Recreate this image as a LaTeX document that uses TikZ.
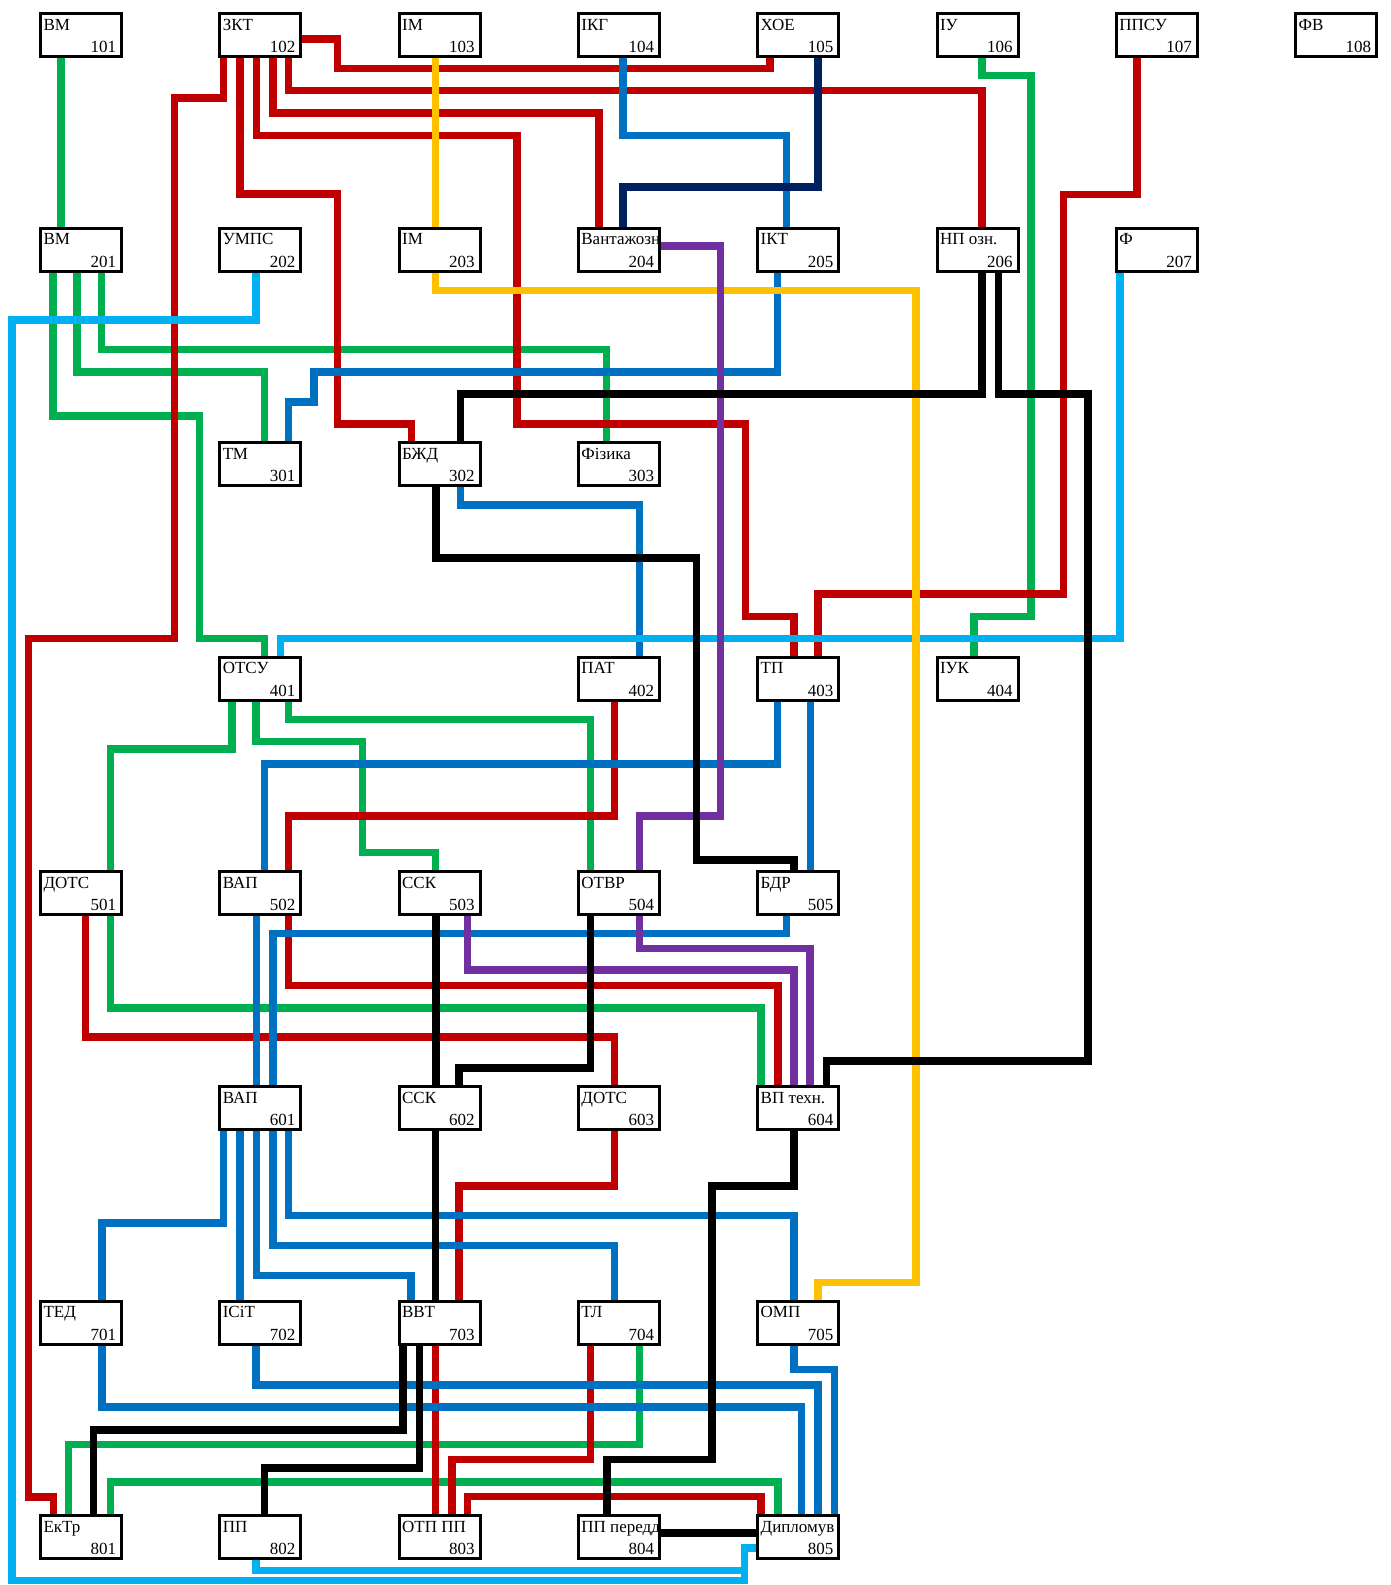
\documentclass[tikz,border=0pt]{standalone}
\usepackage{fontspec}
\setmainfont{Liberation Serif}
\usetikzlibrary{calc}
\pgfdeclarelayer{bg}
\pgfsetlayers{bg,main}
\definecolor{cR}{HTML}{C00000}
\definecolor{cG}{HTML}{00B050}
\definecolor{cB}{HTML}{0070C0}
\definecolor{cC}{HTML}{00B0F0}
\definecolor{cY}{HTML}{FFC000}
\definecolor{cN}{HTML}{002060}
\definecolor{cP}{HTML}{7030A0}
\tikzset{
  box/.style={fill=white, minimum width=81pt, minimum height=43pt, inner sep=0pt, outer sep=0pt},
  brd/.style={draw=black, line width=3pt},
  ln/.style={line width=7.5pt, line join=miter, line cap=butt},
  lbl/.style={inner sep=0pt, font=\fontsize{17}{20}\selectfont},
}
\newcommand\mkbox[5]{%
  \node[box] (#1) at (#2,#3) {};
  \begin{scope}
    \clip (#1.south west) rectangle (#1.north east);
    \node[lbl, anchor=base west] (#1t) at ($(#1.north west)+(2.8,16.5)$) {#4};
    \node[lbl, anchor=base east] (#1n) at ($(#1.south east)+(-5.2,-4)$) {#5};
  \end{scope}
  \draw[brd] (#1.south west) rectangle (#1.north east);
}
\begin{document}
\begin{tikzpicture}[x=1pt,y=-1pt]
\useasboundingbox (0,0) rectangle (1390,1585);
% row 1
\mkbox{b101}{81}{35}{ВМ}{101}
\mkbox{b102}{260.3}{35}{ЗКТ}{102}
\mkbox{b103}{439.6}{35}{ІМ}{103}
\mkbox{b104}{618.9}{35}{ІКГ}{104}
\mkbox{b105}{798.2}{35}{ХОЕ}{105}
\mkbox{b106}{977.5}{35}{ІУ}{106}
\mkbox{b107}{1156.8}{35}{ППСУ}{107}
\mkbox{b108}{1336.1}{35}{ФВ}{108}
% row 2
\mkbox{b201}{81}{249.6}{ВМ}{201}
\mkbox{b202}{260.3}{249.6}{УМПС}{202}
\mkbox{b203}{439.6}{249.6}{ІМ}{203}
\mkbox{b204}{618.9}{249.6}{Вантажозн}{204}
\mkbox{b205}{798.2}{249.6}{ІКТ}{205}
\mkbox{b206}{977.5}{249.6}{НП озн.}{206}
\mkbox{b207}{1156.8}{249.6}{Ф}{207}
% row 3
\mkbox{b301}{260.3}{464.2}{ТМ}{301}
\mkbox{b302}{439.6}{464.2}{БЖД}{302}
\mkbox{b303}{618.9}{464.2}{Фізика}{303}
% row 4
\mkbox{b401}{260.3}{678.8}{ОТСУ}{401}
\mkbox{b402}{618.9}{678.8}{ПАТ}{402}
\mkbox{b403}{798.2}{678.8}{ТП}{403}
\mkbox{b404}{977.5}{678.8}{ІУК}{404}
% row 5
\mkbox{b501}{81}{893.4}{ДОТС}{501}
\mkbox{b502}{260.3}{893.4}{ВАП}{502}
\mkbox{b503}{439.6}{893.4}{ССК}{503}
\mkbox{b504}{618.9}{893.4}{ОТВР}{504}
\mkbox{b505}{798.2}{893.4}{БДР}{505}
% row 6
\mkbox{b601}{260.3}{1108}{ВАП}{601}
\mkbox{b602}{439.6}{1108}{ССК}{602}
\mkbox{b603}{618.9}{1108}{ДОТС}{603}
\mkbox{b604}{798.2}{1108}{ВП техн.}{604}
% row 7
\mkbox{b701}{81}{1322.6}{ТЕД}{701}
\mkbox{b702}{260.3}{1322.6}{ІСіТ}{702}
\mkbox{b703}{439.6}{1322.6}{ВВТ}{703}
\mkbox{b704}{618.9}{1322.6}{ТЛ}{704}
\mkbox{b705}{798.2}{1322.6}{ОМП}{705}
% row 8
\mkbox{b801}{81}{1537.2}{ЕкТр}{801}
\mkbox{b802}{260.3}{1537.2}{ПП}{802}
\mkbox{b803}{439.6}{1537.2}{ОТП ПП}{803}
\mkbox{b804}{618.9}{1537.2}{ПП передд}{804}
\mkbox{b805}{798.2}{1537.2}{Дипломув}{805}

\begin{pgfonlayer}{bg}
\fill[white] (0,0) rectangle (1390,1585);
% green
\draw[ln,cG] (61.2,0 |- b101.south) -- (61.2,0 |- b201.north);
\draw[ln,cG] (53.2,0 |- b201.south) -- (53.2,416.1) -- (199.3,416.1) -- (199.3,638.6) -- (264.5,638.6) -- (264.5,0 |- b401.north);
\draw[ln,cG] (77,0 |- b201.south) -- (77,371.8) -- (264.5,371.8) -- (264.5,0 |- b301.north);
\draw[ln,cG] (101.5,0 |- b201.south) -- (101.5,349.5) -- (606.6,349.5) -- (606.6,0 |- b303.north);
\draw[ln,cG] (981.8,0 |- b106.south) -- (981.8,75.5) -- (1031.2,75.5) -- (1031.2,616.3) -- (974,616.3) -- (974,0 |- b404.north);
\draw[ln,cG] (232,0 |- b401.south) -- (232,749.2) -- (110.3,749.2) -- (110.3,0 |- b501.north);
\draw[ln,cG] (256.2,0 |- b401.south) -- (256.2,741.6) -- (362.7,741.6) -- (362.7,852.6) -- (435.7,852.6) -- (435.7,0 |- b503.north);
\draw[ln,cG] (288.5,0 |- b401.south) -- (288.5,719.7) -- (590.6,719.7) -- (590.6,0 |- b504.north);
\draw[ln,cG] (110.3,0 |- b501.south) -- (110.3,1007.8) -- (761.2,1007.8) -- (761.2,0 |- b604.north);
\draw[ln,cG] (639.7,0 |- b704.south) -- (639.7,1444.3) -- (68.5,1444.3) -- (68.5,0 |- b801.north);
\draw[ln,cG] (110.3,0 |- b801.north) -- (110.3,1481.8) -- (777.9,1481.8) -- (777.9,0 |- b805.north);
% red
\draw[ln,cR] (b102.east |- 0,39) -- (337.5,39) -- (337.5,68.4) -- (770.2,68.4) -- (770.2,0 |- b105.south);
\draw[ln,cR] (223.5,0 |- b102.south) -- (223.5,98.1) -- (174.7,98.1) -- (174.7,638.6) -- (28.5,638.6) -- (28.5,1497.1) -- (53.3,1497.1) -- (53.3,0 |- b801.north);
\draw[ln,cR] (240.2,0 |- b102.south) -- (240.2,193.8) -- (337.7,193.8) -- (337.7,424) -- (411.3,424) -- (411.3,0 |- b302.north);
\draw[ln,cR] (256.5,0 |- b102.south) -- (256.5,135.3) -- (517.1,135.3) -- (517.1,424) -- (745.4,424) -- (745.4,616.3) -- (794.2,616.3) -- (794.2,0 |- b403.north);
\draw[ln,cR] (272.8,0 |- b102.south) -- (272.8,113) -- (598.9,113) -- (598.9,0 |- b204.north);
\draw[ln,cR] (288.5,0 |- b102.south) -- (288.5,90.7) -- (981.8,90.7) -- (981.8,0 |- b206.north);
\draw[ln,cR] (1137,0 |- b107.south) -- (1137,194.4) -- (1063.6,194.4) -- (1063.6,594) -- (817.9,594) -- (817.9,0 |- b403.north);
\draw[ln,cR] (614.6,0 |- b402.south) -- (614.6,816.2) -- (288.5,816.2) -- (288.5,0 |- b502.north);
\draw[ln,cR] (288.5,0 |- b502.south) -- (288.5,985.5) -- (777.9,985.5) -- (777.9,0 |- b604.north);
\draw[ln,cR] (85.3,0 |- b501.south) -- (85.3,1037) -- (614.6,1037) -- (614.6,0 |- b603.north);
\draw[ln,cR] (614.6,0 |- b603.south) -- (614.6,1186) -- (459,1186) -- (459,0 |- b703.north);
\draw[ln,cR] (435.7,0 |- b703.south) -- (435.7,0 |- b803.north);
\draw[ln,cR] (590.6,0 |- b704.south) -- (590.6,1459.7) -- (452,1459.7) -- (452,0 |- b803.north);
\draw[ln,cR] (467.3,0 |- b803.north) -- (467.3,1496.4) -- (761.2,1496.4) -- (761.2,0 |- b805.north);
% blue
\draw[ln,cB] (623.1,0 |- b104.south) -- (623.1,135.3) -- (786.4,135.3) -- (786.4,0 |- b205.north);
\draw[ln,cB] (777.6,0 |- b205.south) -- (777.6,371.8) -- (314,371.8) -- (314,402.2) -- (288.5,402.2) -- (288.5,0 |- b301.north);
\draw[ln,cB] (460.3,0 |- b302.south) -- (460.3,505.2) -- (639.3,505.2) -- (639.3,0 |- b402.north);
\draw[ln,cB] (777.6,0 |- b403.south) -- (777.6,764) -- (264.5,764) -- (264.5,0 |- b502.north);
\draw[ln,cB] (810.4,0 |- b403.south) -- (810.4,0 |- b505.north);
\draw[ln,cB] (256.5,0 |- b502.south) -- (256.5,0 |- b601.north);
\draw[ln,cB] (786.4,0 |- b505.south) -- (786.4,933.6) -- (272.8,933.6) -- (272.8,0 |- b601.north);
\draw[ln,cB] (223.5,0 |- b601.south) -- (223.5,1222.9) -- (101.8,1222.9) -- (101.8,0 |- b701.north);
\draw[ln,cB] (240.2,0 |- b601.south) -- (240.2,0 |- b702.north);
\draw[ln,cB] (256.5,0 |- b601.south) -- (256.5,1275.7) -- (411,1275.7) -- (411,0 |- b703.north);
\draw[ln,cB] (272.8,0 |- b601.south) -- (272.8,1245.4) -- (614.6,1245.4) -- (614.6,0 |- b704.north);
\draw[ln,cB] (288.5,0 |- b601.south) -- (288.5,1215.4) -- (793.9,1215.4) -- (793.9,0 |- b705.north);
\draw[ln,cB] (101.8,0 |- b701.south) -- (101.8,1407.2) -- (801.7,1407.2) -- (801.7,0 |- b805.north);
\draw[ln,cB] (256.2,0 |- b702.south) -- (256.2,1385.1) -- (818.1,1385.1) -- (818.1,0 |- b805.north);
\draw[ln,cB] (793.9,0 |- b705.south) -- (793.9,1369.4) -- (834.7,1369.4) -- (834.7,0 |- b805.north);
% light blue
\draw[ln,cC] (256.2,0 |- b202.south) -- (256.2,320.1) -- (11.8,320.1) -- (11.8,1580.5) -- (744.6,1580.5) -- (744.6,1548.2) -- (b805.west |- 0,1548.2);
\draw[ln,cC] (1120.2,0 |- b207.south) -- (1120.2,638.6) -- (280.3,638.6) -- (280.3,0 |- b401.north);
\draw[ln,cC] (256.2,0 |- b802.south) -- (256.2,1570.4) -- (744.6,1570.4) -- (744.6,1548.2) -- (b805.west |- 0,1548.2);
% yellow
\draw[ln,cY] (435.7,0 |- b103.south) -- (435.7,0 |- b203.north);
\draw[ln,cY] (435.7,0 |- b203.south) -- (435.7,290.7) -- (916.2,290.7) -- (916.2,1282.5) -- (817.9,1282.5) -- (817.9,0 |- b705.north);
% navy
\draw[ln,cN] (818.1,0 |- b105.south) -- (818.1,187) -- (623.1,187) -- (623.1,0 |- b204.north);
% purple
\draw[ln,cP] (b204.east |- 0,246.1) -- (720.6,246.1) -- (720.6,816.2) -- (639.7,816.2) -- (639.7,0 |- b504.north);
\draw[ln,cP] (467.3,0 |- b503.south) -- (467.3,970) -- (794,970) -- (794,0 |- b604.north);
\draw[ln,cP] (639.7,0 |- b504.south) -- (639.7,948.4) -- (810.2,948.4) -- (810.2,0 |- b604.north);
% black
\draw[ln,black] (981.8,0 |- b206.south) -- (981.8,393.8) -- (460.3,393.8) -- (460.3,0 |- b302.north);
\draw[ln,black] (998.7,0 |- b206.south) -- (998.7,393.8) -- (1088,393.8) -- (1088,1061.2) -- (826.4,1061.2) -- (826.4,0 |- b604.north);
\draw[ln,black] (436,0 |- b302.south) -- (436,557.9) -- (696.4,557.9) -- (696.4,860.1) -- (793.9,860.1) -- (793.9,0 |- b505.north);
\draw[ln,black] (436,0 |- b503.south) -- (436,0 |- b602.north);
\draw[ln,black] (590.6,0 |- b504.south) -- (590.6,1068) -- (459,1068) -- (459,0 |- b602.north);
\draw[ln,black] (435.7,0 |- b602.south) -- (435.7,0 |- b703.north);
\draw[ln,black] (793.9,0 |- b604.south) -- (793.9,1186) -- (712.2,1186) -- (712.2,1459.7) -- (606.9,1459.7) -- (606.9,0 |- b804.north);
\draw[ln,black] (402.8,0 |- b703.south) -- (402.8,1430) -- (93.7,1430) -- (93.7,0 |- b801.north);
\draw[ln,black] (419.5,0 |- b703.south) -- (419.5,1467.8) -- (264.5,1467.8) -- (264.5,0 |- b802.north);
\draw[ln,black] (b804.east |- 0,1533.2) -- (b805.west |- 0,1533.2);
\end{pgfonlayer}
\end{tikzpicture}
\end{document}
